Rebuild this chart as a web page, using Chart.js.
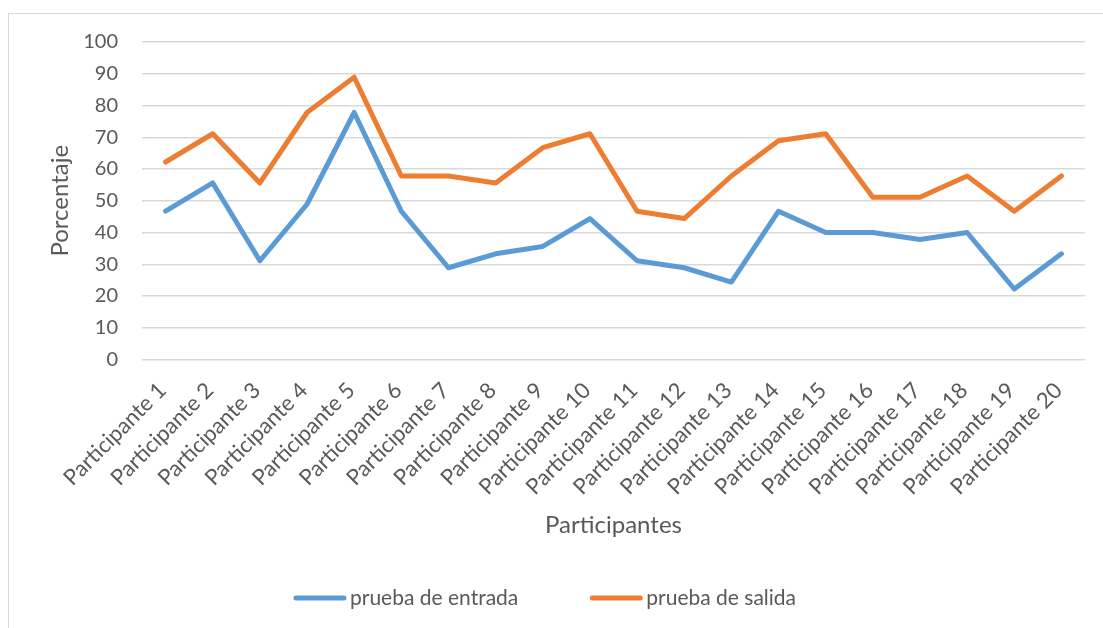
<!DOCTYPE html>
<html><head><meta charset="utf-8">
<script src="https://cdn.jsdelivr.net/npm/chart.js@4"></script>
<style>
html,body{margin:0;padding:0;background:#fff;}
#wrap{position:relative;width:1103px;height:628px;overflow:hidden;}
#frame{position:absolute;left:8px;top:13px;width:1110px;height:640px;border:1.5px solid #D9D9D9;box-sizing:border-box;}
canvas{position:absolute;left:0;top:0;}
</style></head>
<body><div id="wrap"><div id="frame"></div><canvas id="c" width="1103" height="628"></canvas></div>
<script>
const categories = ["Participante 1","Participante 2","Participante 3","Participante 4","Participante 5","Participante 6","Participante 7","Participante 8","Participante 9","Participante 10","Participante 11","Participante 12","Participante 13","Participante 14","Participante 15","Participante 16","Participante 17","Participante 18","Participante 19","Participante 20"];
const entrada = [46.7,55.6,31.1,48.9,77.8,46.7,28.9,33.3,35.6,44.4,31.1,28.9,24.4,46.7,40.0,40.0,37.8,40.0,22.2,33.3];
const salida = [62.2,71.1,55.6,77.8,88.9,57.8,57.8,55.6,66.7,71.1,46.7,44.4,57.8,68.9,71.1,51.1,51.1,57.8,46.7,57.8];
const yTicks = [0,10,20,30,40,50,60,70,80,90,100];
const FONT = "Lato";
const TXT = "#595959";

const customLegend = {
  id:'customLegend',
  afterDraw(chart){
    const ctx = chart.ctx;
    const fs = 21, lineW = 52, gapText = 4, gapItem = 72;
    ctx.save();
    ctx.font = fs + 'px ' + FONT;
    const items = chart.data.datasets.map(d=>({label:d.label, color:d.borderColor, w: ctx.measureText(d.label).width}));
    let total = 0;
    items.forEach((it,i)=>{ total += lineW + gapText + it.w + (i<items.length-1?gapItem:0); });
    let x = 545 - total/2;
    const y = 598;
    items.forEach(it=>{
      ctx.strokeStyle = it.color; ctx.lineWidth = 5; ctx.lineCap = 'round';
      ctx.beginPath(); ctx.moveTo(x+2, y); ctx.lineTo(x+lineW-2, y); ctx.stroke();
      ctx.fillStyle = TXT; ctx.textBaseline = 'middle'; ctx.textAlign = 'left';
      ctx.fillText(it.label, x + lineW + gapText, y);
      x += lineW + gapText + it.w + gapItem;
    });
    ctx.restore();
  }
};

new Chart(document.getElementById('c'), {
  type: 'line',
  data: {
    labels: categories,
    datasets: [
      {label:'prueba de entrada', data: entrada, borderColor:'#5B9BD5', backgroundColor:'#5B9BD5', borderWidth:5, pointRadius:0, tension:0, borderJoinStyle:'round', borderCapStyle:'round'},
      {label:'prueba de salida', data: salida, borderColor:'#ED7D31', backgroundColor:'#ED7D31', borderWidth:5, pointRadius:0, tension:0, borderJoinStyle:'round', borderCapStyle:'round'}
    ]
  },
  plugins:[customLegend],
  options: {
    responsive:false, animation:false,
    layout:{autoPadding:false, padding:{left:46,top:42,right:18,bottom:88}},
    plugins:{
      legend:{display:false},
      tooltip:{enabled:false}
    },
    scales:{
      x:{offset:true, grid:{display:false}, border:{display:false},
         afterFit:(ax)=>{ ax.paddingLeft = 0; ax.paddingRight = 0; },
         ticks:{color:TXT, font:{family:FONT,size:22}, maxRotation:45, minRotation:45, autoSkip:false, padding:10, labelOffset:-3},
         title:{display:true, text:'Participantes', color:TXT, font:{family:FONT,size:24}, padding:{top:1,bottom:0}}},
      y:{min:0, max:100, afterBuildTicks:(ax)=>{ax.ticks = yTicks.map(v=>({value:v}));},
         afterFit:(ax)=>{ ax.width = 96; },
         grid:{color:'#D9D9D9', lineWidth:1.5, drawTicks:false}, border:{display:false},
         ticks:{color:TXT, font:{family:FONT,size:20}, padding:24},
         title:{display:true, text:'Porcentaje', color:TXT, font:{family:FONT,size:24}, padding:{top:0,bottom:7}}}
    }
  }
});
</script></body></html>
